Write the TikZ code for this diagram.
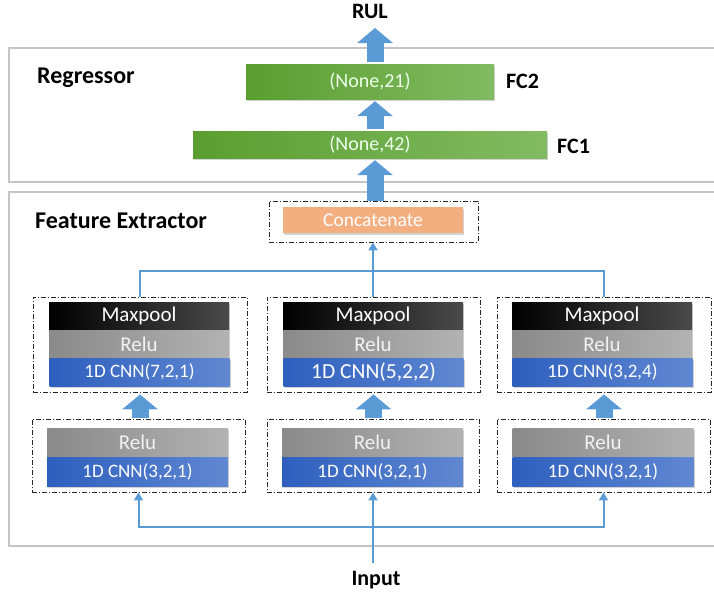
\documentclass[tikz,border=0pt]{standalone}
\usepackage{fontspec}
\setmainfont{Carlito}
\usetikzlibrary{arrows.meta,shadows}
\definecolor{arrowblue}{HTML}{5B9BD5}
\definecolor{greenA}{HTML}{5A9E2F}
\definecolor{greenB}{HTML}{82BB62}
\definecolor{blueA}{HTML}{2E5FBE}
\definecolor{blueB}{HTML}{6088D2}
\definecolor{greyA}{HTML}{8A8A8A}
\definecolor{greyB}{HTML}{B2B2B2}
\definecolor{blackB}{HTML}{4A4A4A}
\definecolor{peach}{HTML}{F4AF80}
\definecolor{panelgrey}{HTML}{C4C4C4}
\tikzset{
  panel/.style={draw=panelgrey, line width=1.5pt, inner sep=0},
  dbox/.style={draw=black!85, line width=0.9pt, dash pattern=on 5pt off 2pt on 1pt off 2pt, inner sep=0},
  layer/.style={inner sep=0, text=white, minimum width=180pt,
    drop shadow={shadow xshift=1.2pt, shadow yshift=-1.8pt, opacity=0.35}},
  greenbox/.style={layer, shade, left color=greenA, right color=greenB, text=white!92!green, font=\fontsize{20}{24}\selectfont},
  poolbox/.style={layer, shade, left color=black, right color=blackB, minimum height=28pt, font=\fontsize{21}{25}\selectfont},
  relubox/.style={layer, shade, left color=greyA, right color=greyB, text=white!95!black, font=\fontsize{21}{25}\selectfont},
  cnnbox/.style={layer, shade, left color=blueA, right color=blueB, font=\fontsize{19}{23}\selectfont},
  catbox/.style={layer, fill=peach, font=\fontsize{19.5}{23}\selectfont},
  heading/.style={font=\bfseries\fontsize{24}{28}\selectfont, inner sep=0, anchor=base west},
  lbl/.style={font=\bfseries\fontsize{22}{26}\selectfont, inner sep=0},
  blockarr/.style={draw=arrowblue, line width=17pt, -{Triangle[width=35pt,length=15pt]}},
  thinline/.style={draw=arrowblue, line width=2pt},
  thinarr/.style={thinline, -{Triangle[width=9pt,length=8pt]}}
}
\begin{document}
\begin{tikzpicture}[x=1pt,y=-1pt]
\clip (0,0) rectangle (714,592);
% panels
\node[panel, minimum width=711pt, minimum height=134pt] (reg) at (364.5,115) {};
\node[panel, minimum width=711pt, minimum height=354pt] (fe) at (364.5,369) {};
\node[heading] (regt) at (37,83) {Regressor};
\node[heading] (fet) at (35,228) {Feature Extractor};
\coordinate (ax) at (375,0);
% regressor
\node[greenbox, minimum width=248pt, minimum height=35pt] (fc2) at (370,81.5) {(None,21)};
\node[greenbox, minimum width=354pt, minimum height=27pt] (fc1) at (370,144.5) {(None,42)};
\node[lbl, anchor=base west] (fc2l) at (506,88) {FC2};
\node[lbl, anchor=base west] (fc1l) at (557,153) {FC1};
\node[lbl, anchor=base] (rul) at (370,18) {RUL};
\node[lbl, anchor=base] (inp) at (376,585) {Input};
% concatenate
\node[dbox, minimum width=209pt, minimum height=41pt] (cbox) at (373.5,221.5) {};
\node[catbox, minimum height=26pt] (cat) at (373,220) {Concatenate};
% top row
\node[poolbox] (mp1) at (139,316) {Maxpool};
\node[relubox, minimum height=28pt] (ra1) at (139,344) {Relu};
\node[cnnbox, minimum height=28pt] (ca1) at (139.5,372) {1D CNN(7,2,1)};
\node[poolbox] (mp2) at (373,316) {Maxpool};
\node[relubox, minimum height=28pt] (ra2) at (373,344) {Relu};
\node[cnnbox, minimum height=28pt, font=\fontsize{21.5}{25}\selectfont] (ca2) at (373.5,372) {1D CNN(5,2,2)};
\node[poolbox] (mp3) at (602,316) {Maxpool};
\node[relubox, minimum height=28pt] (ra3) at (602,344) {Relu};
\node[cnnbox, minimum height=28pt] (ca3) at (602.5,372) {1D CNN(3,2,4)};
\node[dbox, minimum width=214pt, minimum height=95pt] (dt1) at (140,344.5) {};
\node[dbox, minimum width=213pt, minimum height=95pt] (dt2) at (373.5,344.5) {};
\node[dbox, minimum width=214pt, minimum height=95pt] (dt3) at (604,344.5) {};
% bottom row
\node[relubox, minimum width=181pt, minimum height=29pt] (rb1) at (137.5,442.5) {Relu};
\node[cnnbox, minimum width=181pt, minimum height=29pt] (cb1) at (137.5,471.5) {1D CNN(3,2,1)};
\node[relubox, minimum width=181pt, minimum height=29pt] (rb2) at (372.5,442.5) {Relu};
\node[cnnbox, minimum width=181pt, minimum height=29pt] (cb2) at (372.5,471.5) {1D CNN(3,2,1)};
\node[relubox, minimum width=181pt, minimum height=29pt] (rb3) at (603,442.5) {Relu};
\node[cnnbox, minimum width=181pt, minimum height=29pt] (cb3) at (603,471.5) {1D CNN(3,2,1)};
\node[dbox, minimum width=213pt, minimum height=73pt] (db1) at (138.5,455.5) {};
\node[dbox, minimum width=212pt, minimum height=73pt] (db2) at (373,455.5) {};
\node[dbox, minimum width=213pt, minimum height=73pt] (db3) at (603.5,455.5) {};
% block arrows
\draw[blockarr, shorten <=2pt, shorten >=10pt] (fc2.north -| ax) -- (rul.base -| ax);
\draw[blockarr, shorten <=2pt, shorten >=2pt] (fc1.north -| ax) -- (fc2.south -| ax);
\draw[blockarr, shorten >=2pt] (cbox.north -| ax) -- (fc1.south -| ax);
\draw[blockarr, shorten <=1pt, shorten >=2pt] (db1.north -| dt1.south) -- (dt1.south);
\draw[blockarr, shorten <=1pt, shorten >=2pt] (db2.north -| dt2.south) -- (dt2.south);
\draw[blockarr, shorten <=1pt, shorten >=2pt] (db3.north -| dt3.south) -- (dt3.south);
% thin connectors
\coordinate (bus) at (373,271);
\draw[thinline] (dt1.north) |- (bus) -| (dt3.north);
\draw[thinarr] (dt2.north -| bus) -- (cbox.south -| bus);
\coordinate (inbus) at (373,527);
\coordinate (instart) at (373,563);
\draw[thinarr] (inbus) -| (db1.south);
\draw[thinarr] (inbus) -| (db3.south);
\draw[thinarr] (instart) -- (db2.south);
\end{tikzpicture}
\end{document}
